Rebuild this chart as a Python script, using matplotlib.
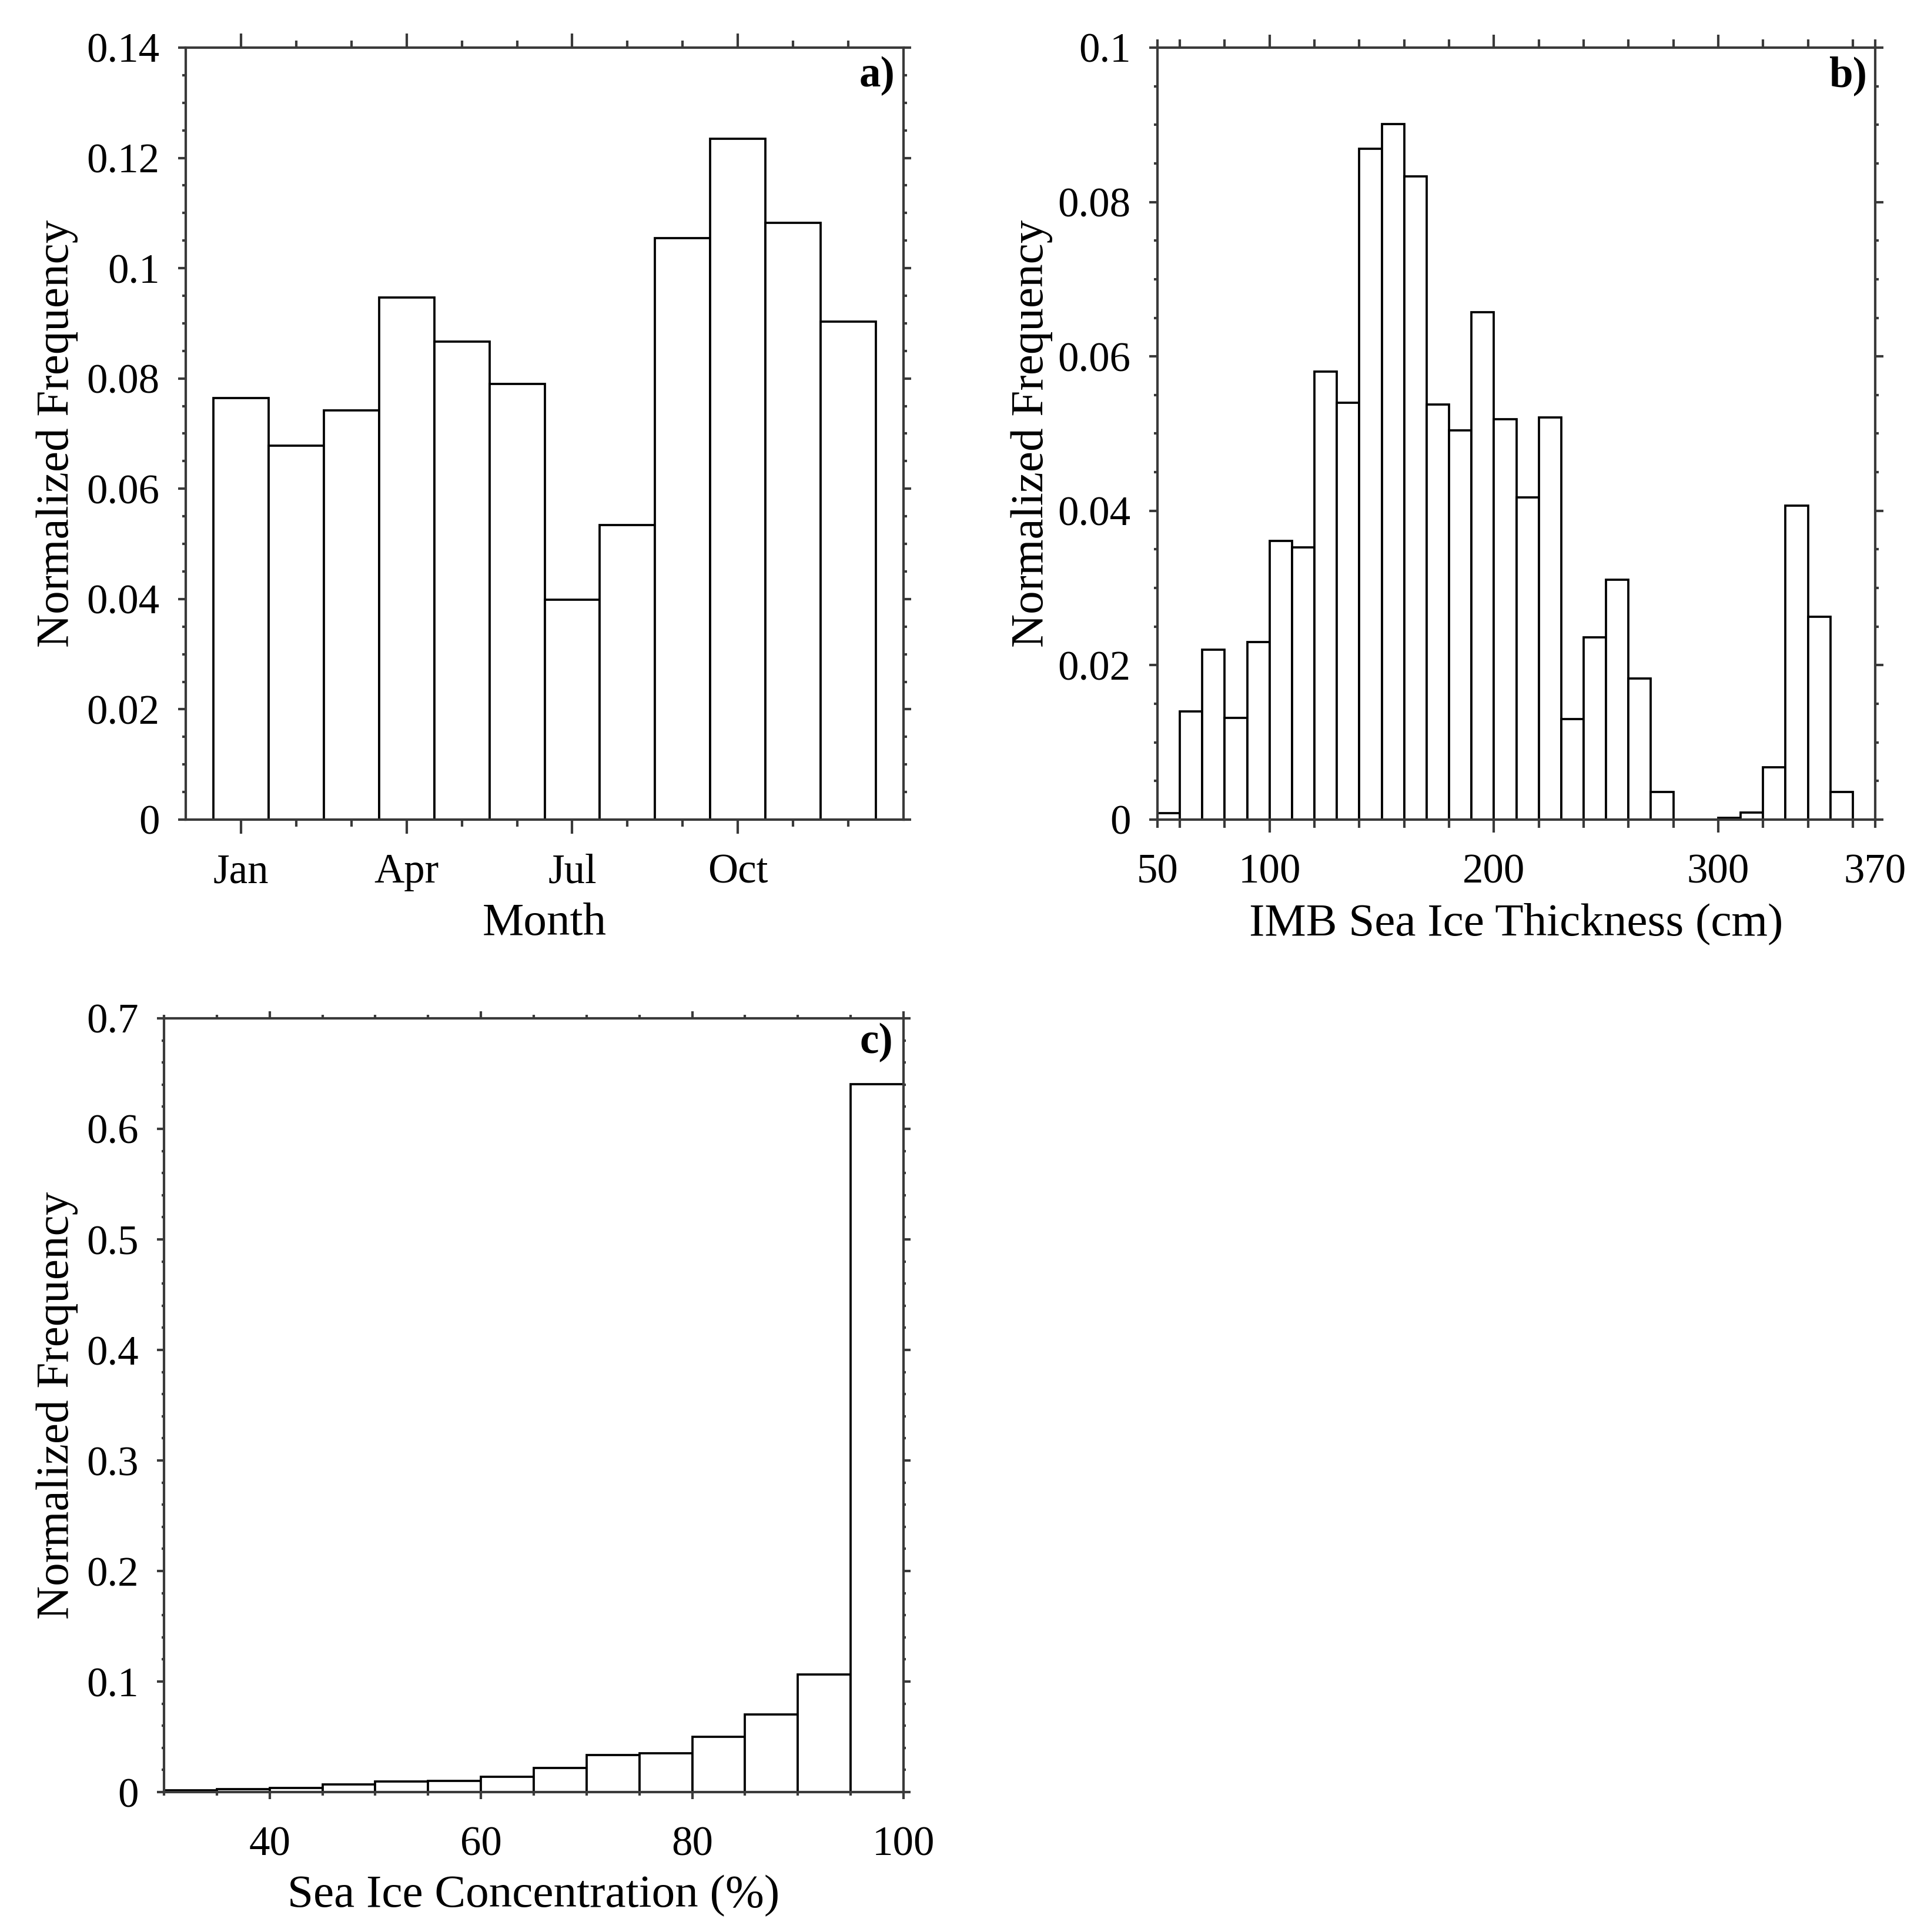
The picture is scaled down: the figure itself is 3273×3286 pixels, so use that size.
import matplotlib
matplotlib.use('Agg')
import matplotlib.pyplot as plt
from matplotlib.ticker import MultipleLocator, FuncFormatter

# panel a: monthly frequency
months = list(range(1, 13))
month_ticks = [1, 4, 7, 10]
month_labels = ['Jan', 'Apr', 'Jul', 'Oct']
month_freq = [0.0765, 0.0678, 0.0742, 0.0947, 0.0867, 0.0790,
              0.0399, 0.0534, 0.1054, 0.1235, 0.1082, 0.0903]

# panel b: IMB thickness, 10 cm bins starting at 50 cm
thick_left = list(range(50, 360, 10))
thick_freq = [0.0008, 0.0140, 0.0220, 0.0132, 0.0230, 0.0361, 0.0353, 0.0580,
              0.0540, 0.0869, 0.0901, 0.0833, 0.0538, 0.0504, 0.0657, 0.0519,
              0.0417, 0.0521, 0.0130, 0.0236, 0.0311, 0.0183, 0.0036, 0.0,
              0.0, 0.0002, 0.0009, 0.0068, 0.0407, 0.0263, 0.0036]

# panel c: sea ice concentration, 5 % bins starting at 30 %
conc_left = list(range(30, 100, 5))
conc_freq = [0.0015, 0.0025, 0.0035, 0.0067, 0.0094, 0.0100, 0.0139,
             0.0216, 0.0333, 0.0350, 0.0500, 0.0700, 0.1065, 0.6406]

plt.rcParams['font.family'] = ['Liberation Serif', 'DejaVu Serif']

W, H = 3273, 3286
DPI = 300
XLAB_GAP = 13.8  # pt from spine to x tick labels


def pt(px):
    return px * 72.0 / DPI


def frame(ax, xmaj, xmin, ymaj, ymin):
    for s in ax.spines.values():
        s.set_color('#3a3a3a')
        s.set_linewidth(1.0)
    ax.tick_params(which='both', direction='out', top=True, right=True,
                   color='#3a3a3a', width=1.0, labelsize=17)
    ax.tick_params(axis='x', which='major', length=pt(xmaj),
                   pad=XLAB_GAP - pt(xmaj))
    ax.tick_params(axis='x', which='minor', length=pt(xmin),
                   pad=XLAB_GAP - pt(xmin))
    ax.tick_params(axis='y', which='major', length=pt(ymaj), pad=7.5)
    ax.tick_params(axis='y', which='minor', length=pt(ymin))


fig = plt.figure(figsize=(W / DPI, H / DPI), dpi=DPI)

# a) month
ax1 = fig.add_axes([316 / W, 1 - 1394 / H, 1221 / W, 1313 / H])
ax1.bar(months, month_freq, width=1.0, facecolor='white',
        edgecolor='black', linewidth=0.9)
ax1.set_xlim(0, 13)
ax1.set_ylim(0, 0.14)
ax1.set_xticks(month_ticks)
ax1.set_xticklabels(month_labels)
ax1.set_xticks(months, minor=True)
ax1.yaxis.set_major_locator(MultipleLocator(0.02))
ax1.yaxis.set_minor_locator(MultipleLocator(0.005))
ax1.yaxis.set_major_formatter(FuncFormatter(lambda v, p: '%g' % round(v, 3)))
frame(ax1, 24, 12, 13, 6)
ax1.set_xlabel('Month', fontsize=19)
ax1.xaxis.set_label_coords(0.5, -0.108)
ax1.set_ylabel('Normalized Frequency', fontsize=19)
ax1.yaxis.set_label_coords(-0.150, 0.5)
ax1.text(0.9885, 0.963, 'a)', transform=ax1.transAxes, ha='right',
         va='center', fontsize=17.5, fontweight='bold')

# b) thickness
ax2 = fig.add_axes([1969 / W, 1 - 1394 / H, 1221 / W, 1313 / H])
ax2.bar(thick_left, thick_freq, width=10, align='edge', facecolor='white',
        edgecolor='black', linewidth=0.9)
ax2.set_xlim(50, 370)
ax2.set_ylim(0, 0.1)
ax2.set_xticks([100, 200, 300])
ax2.set_xticks([50] + list(range(60, 370, 20)) + [370], minor=True)
ax2.xaxis.set_minor_formatter(
    FuncFormatter(lambda v, p: '%d' % v if round(v) in (50, 370) else ''))
ax2.yaxis.set_major_locator(MultipleLocator(0.02))
ax2.yaxis.set_minor_locator(MultipleLocator(0.005))
ax2.yaxis.set_major_formatter(FuncFormatter(lambda v, p: '%g' % round(v, 3)))
frame(ax2, 22, 14, 14, 6)
ax2.set_xlabel('IMB Sea Ice Thickness (cm)', fontsize=19)
ax2.xaxis.set_label_coords(0.5, -0.108)
ax2.set_ylabel('Normalized Frequency', fontsize=19)
ax2.yaxis.set_label_coords(-0.146, 0.5)
ax2.text(0.9885, 0.963, 'b)', transform=ax2.transAxes, ha='right',
         va='center', fontsize=17.5, fontweight='bold')

# c) concentration
ax3 = fig.add_axes([279 / W, 1 - 3048 / H, 1258 / W, 1316 / H])
ax3.bar(conc_left, conc_freq, width=5, align='edge', facecolor='white',
        edgecolor='black', linewidth=0.9)
ax3.set_xlim(30, 100)
ax3.set_ylim(0, 0.7)
ax3.set_xticks([40, 60, 80, 100])
ax3.xaxis.set_minor_locator(MultipleLocator(5))
ax3.yaxis.set_major_locator(MultipleLocator(0.1))
ax3.yaxis.set_minor_locator(MultipleLocator(0.02))
ax3.yaxis.set_major_formatter(FuncFormatter(lambda v, p: '%g' % round(v, 3)))
frame(ax3, 12, 6, 12, 4)
ax3.set_xlabel('Sea Ice Concentration (%)', fontsize=19)
ax3.xaxis.set_label_coords(0.5, -0.107)
ax3.set_ylabel('Normalized Frequency', fontsize=19)
ax3.yaxis.set_label_coords(-0.116, 0.5)
ax3.text(0.9857, 0.969, 'c)', transform=ax3.transAxes, ha='right',
         va='center', fontsize=17.5, fontweight='bold')

fig.savefig('out.png', dpi=DPI)
